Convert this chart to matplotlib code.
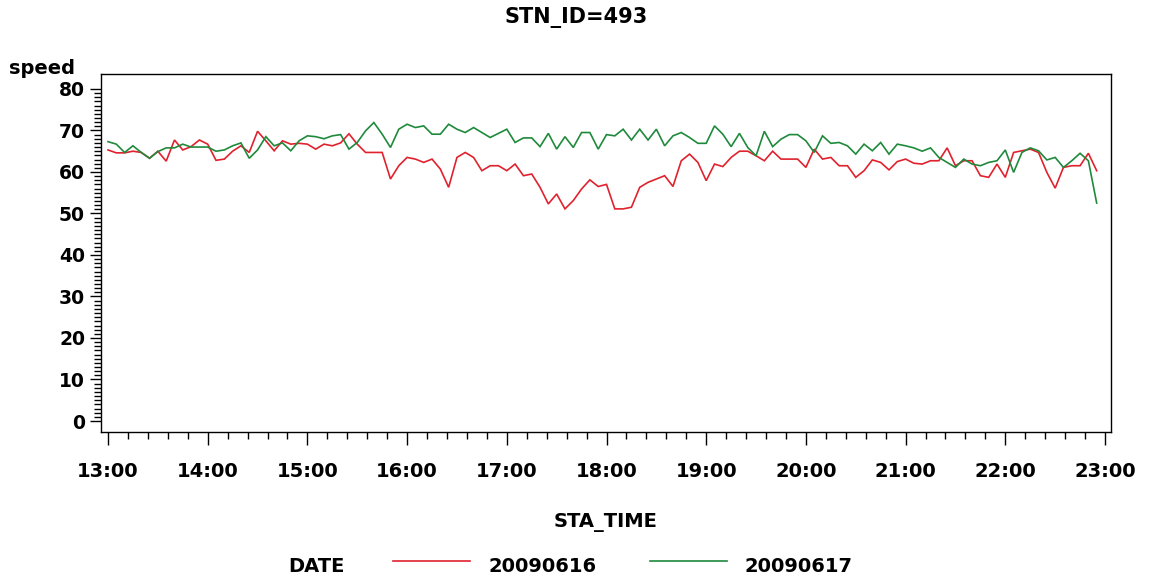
import numpy as np
import matplotlib
matplotlib.use("Agg")
import matplotlib.pyplot as plt
from matplotlib.lines import Line2D
from matplotlib.ticker import FixedLocator

plt.rcParams['font.family'] = ['DejaVu Sans']

# ---- data -------------------------------------------------------------
station_id = 493
dates = ["20090616", "20090617"]
start_hour = 13
interval_min = 5

speed_20090616 = [
    65.3, 64.6, 64.6, 65.0, 64.7, 63.3, 65.0, 62.6, 67.7, 65.3,
    66.1, 67.7, 66.7, 62.8, 63.1, 65.0, 66.3, 64.7, 69.8, 67.5,
    65.1, 67.5, 66.7, 66.9, 66.7, 65.5, 66.7, 66.3, 67.0, 69.2,
    66.7, 64.7, 64.7, 64.7, 58.3, 61.5, 63.5, 63.1, 62.3, 63.1,
    60.7, 56.3, 63.5, 64.7, 63.5, 60.3, 61.5, 61.5, 60.3, 61.9,
    59.1, 59.5, 56.3, 52.3, 54.7, 51.1, 53.1, 55.9, 58.1, 56.5,
    57.0, 51.1, 51.1, 51.5, 56.3, 57.5, 58.3, 59.1, 56.5, 62.7,
    64.3, 62.3, 57.9, 61.9, 61.3, 63.5, 65.0, 65.0, 63.9, 62.7,
    65.0, 63.1, 63.1, 63.1, 61.1, 65.5, 63.1, 63.5, 61.5, 61.5,
    58.7, 60.3, 62.9, 62.3, 60.5, 62.5, 63.1, 62.1, 61.9, 62.7,
    62.7, 65.8, 61.5, 62.7, 62.7, 59.1, 58.7, 61.9, 58.7, 64.7,
    65.1, 65.5, 64.7, 59.9, 56.1, 61.1, 61.5, 61.5, 64.5, 60.3,
]

speed_20090617 = [
    67.3, 66.7, 64.7, 66.3, 64.7, 63.3, 64.9, 65.8, 65.8, 66.7,
    66.0, 66.0, 66.0, 65.0, 65.3, 66.3, 67.0, 63.3, 65.3, 68.5,
    66.3, 67.0, 65.1, 67.5, 68.7, 68.5, 68.0, 68.7, 69.0, 65.5,
    67.1, 69.9, 71.9, 69.1, 65.9, 70.3, 71.5, 70.7, 71.1, 69.1,
    69.1, 71.5, 70.3, 69.5, 70.7, 69.5, 68.3, 69.3, 70.3, 67.1,
    68.2, 68.2, 66.1, 69.3, 65.5, 68.5, 65.9, 69.5, 69.5, 65.5,
    69.0, 68.7, 70.3, 67.7, 70.3, 67.7, 70.3, 66.3, 68.7, 69.5,
    68.3, 66.9, 66.9, 71.1, 69.1, 66.1, 69.3, 65.9, 63.9, 69.8,
    66.1, 67.9, 69.0, 69.0, 67.5, 64.7, 68.7, 66.9, 67.1, 66.3,
    64.3, 66.7, 65.1, 67.1, 64.3, 66.7, 66.3, 65.8, 65.0, 65.8,
    63.5, 62.3, 61.1, 63.1, 61.9, 61.5, 62.3, 62.7, 65.3, 59.9,
    64.7, 65.8, 65.1, 62.9, 63.5, 61.1, 62.7, 64.5, 62.7, 52.5,
]

hour_labels = ["13:00", "14:00", "15:00", "16:00", "17:00", "18:00",
               "19:00", "20:00", "21:00", "22:00", "23:00"]
speed_ticks = [0, 10, 20, 30, 40, 50, 60, 70, 80]

series_colors = ["#e0222e", "#1f8a3c"]

# ---- figure -----------------------------------------------------------
W, H = 1150, 580
fig = plt.figure(figsize=(W / 100, H / 100), dpi=100)
fig.patch.set_facecolor("white")


def fx(px):
    return px / W


def fy(py):
    return 1 - py / H


ax = fig.add_axes([fx(101), fy(432), fx(1111) - fx(101), fy(74) - fy(432)])

n = len(speed_20090616)
t_hours = start_hour + np.arange(n) * interval_min / 60.0

for vals, col in zip([speed_20090616, speed_20090617], series_colors):
    ax.plot(t_hours, vals, color=col, lw=1.2, solid_joinstyle="miter")

hour_pos = start_hour + np.arange(len(hour_labels))
px_per_hour = 99.7
ax.set_xlim(hour_pos[0] - 7 / px_per_hour, hour_pos[-1] + 6 / px_per_hour)
ax.set_ylim(-2.65, 83.6)

ax.set_xticks(hour_pos)
ax.set_xticklabels(hour_labels, fontsize=14, fontweight="bold")
ax.xaxis.set_minor_locator(FixedLocator(np.arange(hour_pos[0], hour_pos[-1] + 0.01, 0.2)))
ax.set_yticks(speed_ticks)
ax.set_yticklabels([str(v) for v in speed_ticks], fontsize=13.5, fontweight="bold")
ax.yaxis.set_minor_locator(FixedLocator(np.arange(speed_ticks[0], speed_ticks[-1] + 1, 1)))

ax.tick_params(axis="x", which="major", direction="out", length=9.4, width=1.0, pad=12)
ax.tick_params(axis="x", which="minor", direction="out", length=5.0, width=1.0)
ax.tick_params(axis="y", which="major", direction="out", length=8.0, width=1.0, pad=3.5)
ax.tick_params(axis="y", which="minor", direction="out", length=5.0, width=1.0)
for sp in ax.spines.values():
    sp.set_linewidth(1.0)
    sp.set_color("black")

# ---- text -------------------------------------------------------------
fig.text(fx(576), fy(17), f"STN_ID={station_id}", ha="center", va="center",
         fontsize=15, fontweight="bold")
fig.text(fx(9), fy(74), "speed", ha="left", va="baseline",
         fontsize=14, fontweight="bold")
fig.text(fx(606), fy(522), "STA_TIME", ha="center", va="center",
         fontsize=14, fontweight="bold")

# legend row
fig.text(fx(288), fy(566), "DATE", ha="left", va="center",
         fontsize=14, fontweight="bold")
legend_x = [393, 650]
for x0, lab, col in zip(legend_x, dates, series_colors):
    fig.add_artist(Line2D([fx(x0), fx(x0 + 77)], [fy(561), fy(561)],
                          transform=fig.transFigure, color=col, lw=1.2))
    fig.text(fx(x0 + 95), fy(566), lab, ha="left", va="center",
             fontsize=14, fontweight="bold")

fig.savefig("out.png", dpi=100, facecolor="white")
